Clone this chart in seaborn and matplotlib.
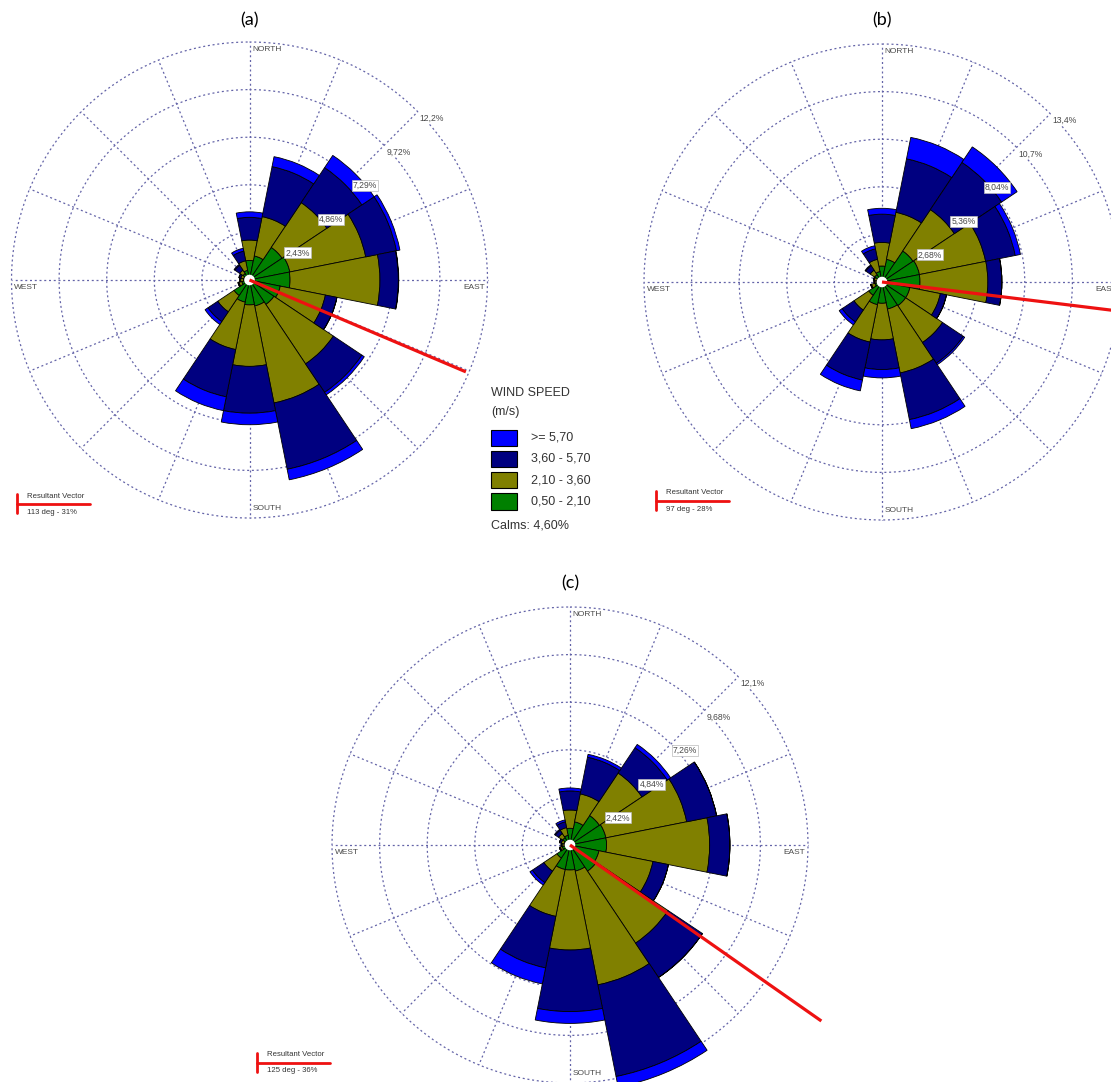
import numpy as np
import matplotlib
matplotlib.use("Agg")
import matplotlib.pyplot as plt
from matplotlib.lines import Line2D
from matplotlib.patches import Rectangle
import seaborn as sns

# -------------------------------
# 1. DATA (frequency % per speed class, 16 directions from N clockwise)
# -------------------------------
directions = ["N", "NNE", "NE", "ENE", "E", "ESE", "SE", "SSE",
              "S", "SSW", "SW", "WSW", "W", "WNW", "NW", "NNW"]
speed_classes = ["0,50 - 2,10", "2,10 - 3,60", "3,60 - 5,70", ">= 5,70"]

a_green = [1.00, 1.25, 2.00, 2.10, 2.07, 1.60, 1.50, 1.35, 1.27, 1.15, 0.95, 0.40, 0.30, 0.30, 0.40, 0.50]
a_olive = [1.04, 2.05, 2.75, 3.95, 4.59, 2.35, 3.65, 5.05, 3.14, 2.47, 1.00, 0.15, 0.15, 0.15, 0.20, 0.50]
a_navy = [1.16, 2.60, 2.15, 1.60, 0.94, 0.60, 1.75, 3.45, 2.39, 2.46, 0.60, 0.05, 0.05, 0.10, 0.30, 0.50]
a_blue = [0.28, 0.52, 0.75, 0.18, 0.02, 0.00, 0.15, 0.55, 0.59, 0.72, 0.18, 0.00, 0.00, 0.00, 0.05, 0.15]

b_green = [0.90, 1.30, 2.10, 2.15, 2.14, 1.60, 1.60, 1.55, 1.20, 1.30, 0.90, 0.40, 0.30, 0.30, 0.50, 0.60]
b_olive = [1.33, 2.70, 2.80, 3.80, 3.82, 1.75, 2.50, 3.67, 2.06, 2.15, 1.00, 0.20, 0.10, 0.15, 0.30, 0.70]
b_navy = [1.59, 3.07, 3.20, 1.70, 0.79, 0.35, 1.40, 2.68, 1.67, 2.18, 0.80, 0.05, 0.05, 0.05, 0.30, 0.60]
b_blue = [0.33, 1.23, 1.05, 0.30, 0.00, 0.00, 0.10, 0.52, 0.47, 0.62, 0.20, 0.00, 0.00, 0.00, 0.05, 0.18]

c_green = [0.85, 1.20, 1.80, 1.86, 1.86, 1.50, 1.60, 1.35, 1.27, 1.27, 0.80, 0.40, 0.30, 0.30, 0.45, 0.50]
c_olive = [0.93, 1.45, 2.60, 4.19, 5.24, 2.80, 4.40, 5.90, 4.07, 2.43, 0.80, 0.10, 0.10, 0.15, 0.25, 0.40]
c_navy = [0.97, 1.90, 1.55, 1.55, 1.03, 0.80, 2.10, 4.75, 3.13, 2.67, 0.70, 0.05, 0.05, 0.10, 0.20, 0.30]
c_blue = [0.15, 0.15, 0.20, 0.00, 0.00, 0.00, 0.00, 0.55, 0.60, 0.83, 0.15, 0.00, 0.00, 0.00, 0.05, 0.10]

# ring step (%) and ring labels
a_step, b_step, c_step = 2.43, 2.68, 2.42
a_rings = ["2,43%", "4,86%", "7,29%", "9,72%", "12,2%"]
b_rings = ["2,68%", "5,36%", "8,04%", "10,7%", "13,4%"]
c_rings = ["2,42%", "4,84%", "7,26%", "9,68%", "12,1%"]

# resultant vector: direction (deg), drawn length (%), caption
a_vec = (113, 12.0, "113 deg - 31%")
b_vec = (97, 13.6, "97 deg - 28%")
c_vec = (125, 15.6, "125 deg - 36%")

calms = "Calms: 4,60%"

# -------------------------------
# 2. STYLE
# -------------------------------
sns.set_theme(style="white")
plt.rcParams["font.family"] = ["Liberation Sans", "DejaVu Sans"]

colors = sns.color_palette(["#008000", "#808000", "#000080", "#0000ff"])
grid_color = "#6464a8"
text_gray = "#4a4a4a"

W, H = 1111, 1082
fig = plt.figure(figsize=(W / 100, H / 100), dpi=100)


def fx(x):
    return x / W


def fy(y):
    return 1 - y / H


# -------------------------------
# 3. ONE WIND ROSE
# -------------------------------
def draw_rose(cx, cy, step, ring_labels, classes, vec, title, title_y):
    px_per_pct = 238 / (5 * step)
    rmax = 17.0
    size = 2 * rmax * px_per_pct
    ax = fig.add_axes([fx(cx - size / 2), fy(cy + size / 2), size / W, size / H],
                      projection="polar")
    ax.set_theta_zero_location("N")
    ax.set_theta_direction(-1)
    ax.set_ylim(0, rmax)
    ax.set_axis_off()

    outer = 5 * step
    # rings and spokes
    t = np.linspace(0, 2 * np.pi, 400)
    for k in range(1, 6):
        ax.plot(t, np.full_like(t, k * step), color=grid_color, lw=0.9,
                dashes=(1.6, 2.2), zorder=1)
    theta = np.deg2rad(np.arange(16) * 22.5)
    for a in theta:
        ax.plot([a, a], [0, outer], color=grid_color, lw=0.9,
                dashes=(1.6, 2.2), zorder=1)

    # stacked petals
    bottom = np.zeros(16)
    for vals, col in zip(classes, colors):
        vals = np.array(vals)
        ax.bar(theta, vals, width=2 * np.pi / 16, bottom=bottom, color=col,
               edgecolor="black", linewidth=0.6, zorder=2)
        bottom = bottom + vals

    # calm circle
    ax.bar(0, 5.3 / px_per_pct, width=2 * np.pi, bottom=0, color="white",
           edgecolor="none", zorder=3)

    # resultant vector
    ang = np.deg2rad(vec[0])
    ax.plot([ang, ang], [0, vec[1]], color="#ee1111", lw=2.3, zorder=4,
            solid_capstyle="butt")

    # ring labels
    for k, lab in enumerate(ring_labels, start=1):
        ax.annotate(lab, xy=(np.deg2rad(45), k * step), xytext=(1.5, -1.5),
                    textcoords="offset points", ha="left", va="top",
                    fontsize=6.2, color=text_gray, zorder=6,
                    bbox=dict(boxstyle="square,pad=0.12", fc="white",
                              ec="#bbbbbb" if k <= 3 else "none", lw=0.5))

    # compass labels
    lab_kw = dict(textcoords="offset points", fontsize=6, color=text_gray, zorder=6)
    ax.annotate("NORTH", xy=(0, outer), xytext=(2, -3), ha="left", va="top", **lab_kw)
    ax.annotate("WEST", xy=(np.deg2rad(270), outer), xytext=(2, -3), ha="left", va="top", **lab_kw)
    ax.annotate("EAST", xy=(np.deg2rad(90), outer), xytext=(-2, -3), ha="right", va="top", **lab_kw)
    ax.annotate("SOUTH", xy=(np.pi, outer), xytext=(2, 4), ha="left", va="bottom", **lab_kw)

    fig.text(fx(cx), fy(title_y), title, ha="center", va="center",
             fontsize=13, family=["Lato", "DejaVu Sans"], color="black")
    return ax


ax_a = draw_rose(249.5, 280, a_step, a_rings, [a_green, a_olive, a_navy, a_blue], a_vec, "(a)", 20)
ax_b = draw_rose(882, 282, b_step, b_rings, [b_green, b_olive, b_navy, b_blue], b_vec, "(b)", 20)
ax_c = draw_rose(570, 845, c_step, c_rings, [c_green, c_olive, c_navy, c_blue], c_vec, "(c)", 583)


# -------------------------------
# 4. RESULTANT VECTOR KEYS
# -------------------------------
def vector_key(x0, y0, vec):
    fig.add_artist(Line2D([fx(x0), fx(x0 + 73)], [fy(y0), fy(y0)], color="#ee1111", lw=2))
    fig.add_artist(Line2D([fx(x0), fx(x0)], [fy(y0 - 10), fy(y0 + 9)], color="#ee1111", lw=2))
    fig.text(fx(x0 + 10), fy(y0 - 8), "Resultant Vector", fontsize=5.6,
             color="#333333", ha="left", va="center")
    fig.text(fx(x0 + 10), fy(y0 + 8), vec[2], fontsize=5.6,
             color="#333333", ha="left", va="center")


vector_key(17, 504, a_vec)
vector_key(656, 501, b_vec)
vector_key(257, 1063, c_vec)

# -------------------------------
# 5. SPEED LEGEND
# -------------------------------
fig.text(fx(491), fy(393), "WIND SPEED", fontsize=9, color="#333333", ha="left", va="center")
fig.text(fx(491), fy(412), "(m/s)", fontsize=9, color="#333333", ha="left", va="center")
for i, (lab, col) in enumerate(zip(speed_classes[::-1], list(colors)[::-1])):
    ytop = 429.5 + i * 21.2
    fig.add_artist(Rectangle((fx(491), fy(ytop + 16.5)), 26 / W, 16.5 / H,
                             transform=fig.transFigure, fc=col, ec="black", lw=0.8))
    fig.text(fx(531), fy(ytop + 8.3), lab, fontsize=9, color="#333333",
             ha="left", va="center")
fig.text(fx(491), fy(525.5), calms, fontsize=9, color="#333333", ha="left", va="center")

fig.savefig("out.png", dpi=100)
